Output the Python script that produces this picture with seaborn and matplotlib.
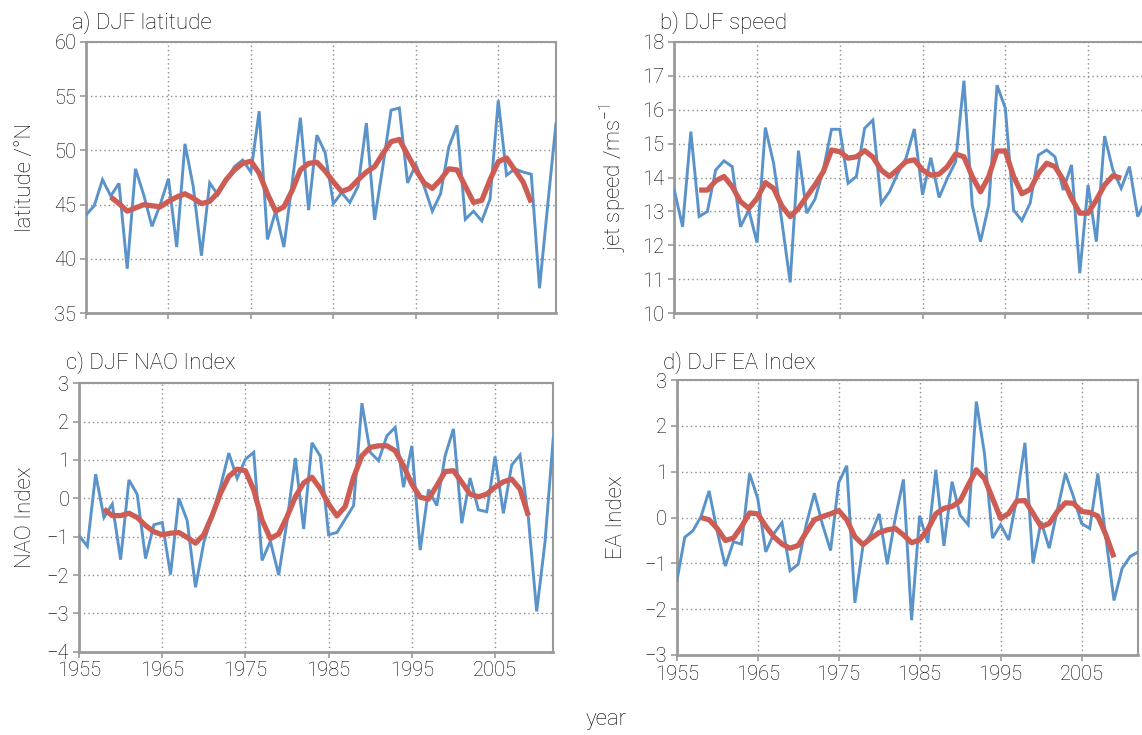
import numpy as np
import matplotlib
matplotlib.use("Agg")
import matplotlib.pyplot as plt
import seaborn as sns

# ---- data -------------------------------------------------------------
years = np.arange(1955, 2013)
smooth_years = np.arange(1958, 2010)

latitude = [44.05, 44.9, 47.3, 45.8, 46.96, 39.1, 48.3, 45.9, 43.0, 45.0,
            47.4, 41.1, 50.6, 46.7, 40.3, 47.0, 45.9, 47.2, 48.5, 49.1,
            48.0, 53.6, 41.8, 44.4, 41.1, 47.0, 53.0, 44.5, 51.4, 49.8,
            45.1, 46.1, 45.2, 46.7, 52.5, 43.6, 48.5, 53.7, 53.9, 47.0,
            48.7, 46.7, 44.4, 46.0, 50.3, 52.3, 43.65, 44.4, 43.5, 45.5,
            54.6, 47.7, 48.3, 48.0, 47.8, 37.3, 45.0, 52.5]
latitude_smooth = [45.7, 45.1, 44.4, 44.7, 45.0, 44.9, 44.8, 45.3, 45.7, 46.0,
                   45.6, 45.1, 45.3, 46.1, 47.3, 48.2, 48.8, 49.0, 47.9, 46.0,
                   44.4, 44.8, 46.3, 48.2, 48.8, 48.9, 48.1, 47.1, 46.2, 46.5,
                   47.3, 48.0, 48.5, 49.7, 50.8, 51.0, 49.6, 48.2, 47.0, 46.5,
                   47.3, 48.3, 48.2, 46.7, 45.2, 45.4, 47.3, 48.95, 49.3, 48.2,
                   47.1, 45.2]

speed = [13.63, 12.55, 15.35, 12.85, 13.0, 14.22, 14.49, 14.32, 12.55, 13.04,
         12.08, 15.47, 14.42, 12.7, 10.91, 14.79, 12.95, 13.36, 14.22, 15.42,
         15.42, 13.83, 14.03, 15.45, 15.69, 13.24, 13.58, 14.12, 14.57, 15.43,
         13.49, 14.58, 13.41, 13.98, 14.47, 16.85, 13.19, 12.11, 13.19, 16.72,
         16.04, 13.04, 12.73, 13.24, 14.66, 14.81, 14.61, 13.63, 14.37, 11.18,
         13.78, 12.11, 15.22, 14.22, 13.68, 14.32, 12.85, 13.35]
speed_smooth = [13.63, 13.63, 13.9, 14.03, 13.73, 13.29, 13.09, 13.39, 13.85, 13.68,
                13.16, 12.85, 13.09, 13.44, 13.78, 14.17, 14.81, 14.76, 14.57, 14.61,
                14.79, 14.6, 14.22, 14.03, 14.24, 14.47, 14.52, 14.22, 14.07, 14.1,
                14.32, 14.69, 14.61, 14.03, 13.58, 14.03, 14.78, 14.78, 14.03, 13.52,
                13.65, 14.12, 14.42, 14.32, 13.93, 13.39, 12.95, 12.95, 13.34, 13.78,
                14.05, 13.98]

nao = [-0.97, -1.25, 0.63, -0.5, -0.15, -1.6, 0.48, 0.1, -1.57, -0.69,
       -0.63, -1.99, 0.0, -0.58, -2.32, -1.15, -0.45, 0.3, 1.18, 0.52,
       1.02, 1.2, -1.62, -1.12, -2.0, -0.6, 1.05, -0.8, 1.45, 1.1,
       -0.95, -0.89, -0.54, -0.19, 2.48, 1.2, 0.98, 1.63, 1.85, 0.29,
       1.37, -1.35, 0.23, -0.19, 1.11, 1.81, -0.65, 0.53, -0.3, -0.35,
       1.09, -0.39, 0.87, 1.13, -0.5, -2.95, -1.15, 1.59]
nao_smooth = [-0.28, -0.45, -0.45, -0.39, -0.5, -0.71, -0.87, -0.95, -0.91, -0.89,
              -1.02, -1.17, -0.95, -0.45, 0.13, 0.57, 0.76, 0.72, 0.22, -0.57,
              -1.05, -0.93, -0.48, 0.04, 0.4, 0.55, 0.25, -0.15, -0.46, -0.21,
              0.55, 1.11, 1.33, 1.37, 1.37, 1.24, 0.85, 0.37, 0.03, -0.02,
              0.33, 0.7, 0.72, 0.42, 0.11, 0.04, 0.11, 0.29, 0.43, 0.5,
              0.24, -0.45]

ea = [-1.4, -0.43, -0.29, 0.02, 0.58, -0.3, -1.06, -0.53, -0.58, 0.96,
      0.42, -0.75, -0.35, -0.11, -1.16, -1.02, -0.15, 0.53, -0.15, -0.72,
      0.76, 1.13, -1.86, -0.62, -0.36, 0.08, -1.02, 0.0, 0.83, -2.24,
      0.04, -0.55, 1.04, -0.62, 0.78, 0.05, -0.16, 2.53, 1.4, -0.45,
      -0.16, -0.49, 0.42, 1.63, -1.0, -0.09, -0.67, 0.16, 0.96, 0.45,
      -0.13, -0.24, 0.96, -0.45, -1.81, -1.11, -0.85, -0.75]
ea_smooth = [0.0, -0.05, -0.24, -0.5, -0.45, -0.2, 0.1, 0.08, -0.19, -0.42,
             -0.58, -0.67, -0.61, -0.32, -0.05, 0.02, 0.08, 0.15, -0.05, -0.42,
             -0.59, -0.45, -0.33, -0.27, -0.24, -0.38, -0.55, -0.49, -0.26, 0.08,
             0.2, 0.24, 0.36, 0.71, 1.04, 0.85, 0.42, -0.02, 0.09, 0.36,
             0.37, 0.09, -0.2, -0.13, 0.13, 0.32, 0.31, 0.13, 0.11, 0.03,
             -0.38, -0.87]

year_ticks = [1955, 1965, 1975, 1985, 1995, 2005]

# ---- style ------------------------------------------------------------
sns.set_theme(style="white")
FONT = ["Roboto", "DejaVu Sans"]
plt.rcParams["font.family"] = FONT
plt.rcParams["font.weight"] = "light"
plt.rcParams["mathtext.default"] = "regular"

BLUE = "#5a93c9"
RED = "#cd5d54"
SPINE = "#9a9a9a"
TEXT = "#000000"

W, H = 1142, 735
fig = plt.figure(figsize=(W / 100, H / 100), dpi=100)


def frac_box(x0, y0, x1, y1):
    """Axes rectangle from pixel corners (origin top-left)."""
    return [x0 / W, 1 - y1 / H, (x1 - x0) / W, (y1 - y0) / H]


def panel(box, raw, smooth, ylim, yticks, ylabel, title, title_xy,
          ylabel_x, show_xlabels):
    ax = fig.add_axes(frac_box(*box))
    sns.lineplot(x=years, y=raw, ax=ax, color=BLUE, linewidth=2.1,
                 solid_joinstyle="miter", zorder=3)
    sns.lineplot(x=smooth_years, y=smooth, ax=ax, color=RED, linewidth=3.8,
                 solid_capstyle="butt", zorder=4)
    ax.set_xlim(1955, 2012)
    ax.set_ylim(*ylim)
    ax.set_yticks(yticks)
    ax.set_xticks(year_ticks)
    if show_xlabels:
        ax.set_xticklabels([str(y) for y in year_ticks])
    else:
        ax.set_xticklabels([])
    ax.grid(True, color="#8c8c8c", linestyle=(0, (1, 2.2)), linewidth=1.0)
    ax.set_axisbelow(True)
    for side in ["left", "bottom"]:
        ax.spines[side].set_color(SPINE)
        ax.spines[side].set_linewidth(2.0)
    for side in ["top", "right"]:
        ax.spines[side].set_color(SPINE)
        ax.spines[side].set_linewidth(1.5)
    ax.tick_params(axis="both", which="major", direction="out", length=4,
                   width=1.2, color=SPINE, labelsize=14.5, labelcolor=TEXT,
                   left=True, bottom=True, pad=3)
    ax.set_xlabel("")
    ax.set_ylabel("")
    fig.text(ylabel_x / W, 1 - ((box[1] + box[3]) / 2) / H, ylabel,
             rotation=90, ha="center", va="center", fontsize=16,
             color=TEXT)
    fig.text(title_xy[0] / W, 1 - title_xy[1] / H, title, ha="left",
             va="baseline", fontsize=16, color=TEXT)
    return ax


panel((86, 41.7, 556, 313.3), latitude, latitude_smooth, (35, 60),
      np.arange(35, 61, 5), "latitude /°N", "a) DJF latitude", (72, 29),
      26, False)
panel((674.3, 41.7, 1146, 313.3), speed, speed_smooth, (10, 18),
      np.arange(10, 19, 1), "jet speed /ms$^{-1}$", "b) DJF speed", (660, 29),
      614, False)
panel((79, 383.3, 553.3, 651.7), nao, nao_smooth, (-4, 3),
      np.arange(-4, 4, 1), "NAO Index", "c) DJF NAO Index", (66, 369),
      26, True)
panel((676.7, 380, 1138.3, 655), ea, ea_smooth, (-3, 3),
      np.arange(-3, 4, 1), "EA Index", "d) DJF EA Index", (663, 369),
      616, True)

fig.text(606 / W, 1 - 720 / H, "year", ha="center", va="center",
         fontsize=16, color=TEXT)

fig.savefig("out.png", dpi=100)
